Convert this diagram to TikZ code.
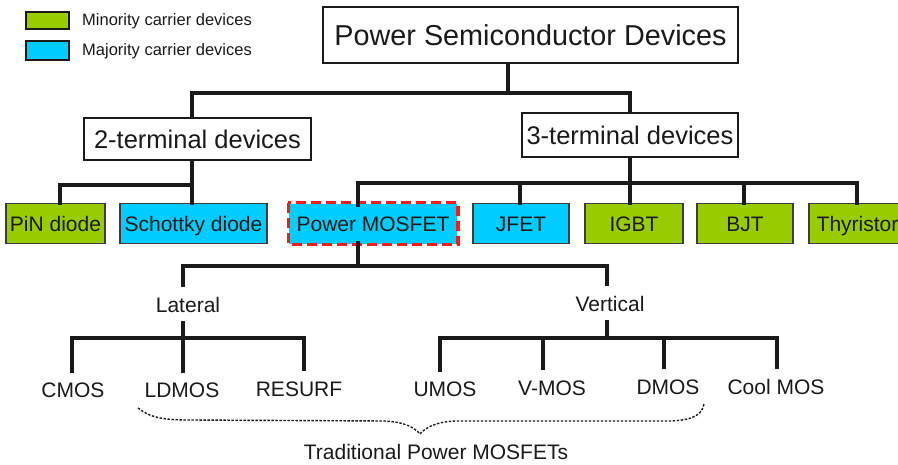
\documentclass[tikz,border=0pt]{standalone}
\usepackage{fontspec}
\setmainfont{Liberation Sans}
\definecolor{mgreen}{HTML}{99CC00}
\definecolor{mblue}{HTML}{00CCFF}
\definecolor{ink}{HTML}{1A1A1A}
\definecolor{mred}{HTML}{F01E1E}
\newcommand\fsLegend{\fontsize{16.5}{19}\selectfont}
\newcommand\fsBox{\fontsize{21}{25}\selectfont}
\newcommand\fsTerm{\fontsize{25.5}{30}\selectfont}
\newcommand\fsRoot{\fontsize{28.8}{34}\selectfont}
\begin{document}
\begin{tikzpicture}[x=1pt,y=-1pt,
  conn/.style={line width=3.6pt, draw=ink, line cap=rect, line join=miter},
  whitebox/.style={draw=ink, line width=1.5pt, fill=white, inner sep=0pt, text=ink},
  devbox/.style={draw=ink!85, line width=1.6pt, inner sep=0pt, minimum height=40pt, text height=16pt, text depth=0pt, text=ink, font=\fsBox},
  minor/.style={devbox, fill=mgreen},
  major/.style={devbox, fill=mblue},
  leaf/.style={inner sep=0pt, text=ink, font=\fsBox},
  legbox/.style={draw=ink, line width=1.5pt, inner sep=0pt, minimum width=43pt},
  legtext/.style={inner sep=0pt, anchor=west, text=ink, font=\fsLegend}]
\useasboundingbox (0,0) rectangle (898,464);
\fill[white] (0,0) rectangle (898,464);

% legend
\node[legbox, fill=mgreen, minimum height=17pt] (lg1) at (47.5,20.5) {};
\node[legbox, fill=mblue, minimum height=19pt] (lg2) at (47.5,50.5) {};
\node[legtext] (lt1) at (82,21) {Minority carrier devices};
\node[legtext] (lt2) at (82,51) {Majority carrier devices};

% main boxes
\node[whitebox, minimum width=415pt, minimum height=56pt, font=\fsRoot] (root) at (530.5,35) {Power Semiconductor Devices};
\node[whitebox, minimum width=227pt, minimum height=42pt, font=\fsTerm] (two) at (197.5,139) {2-terminal devices};
\node[whitebox, minimum width=216pt, minimum height=44pt, font=\fsTerm] (three) at (630,135) {3-terminal devices};

% device boxes
\node[minor, minimum width=99pt] (pin) at (55.5,223.5) {PiN diode};
\node[major, minimum width=147pt] (sch) at (193.5,223.5) {Schottky diode};
\node[major, draw=none, minimum width=168pt] (pmos) at (373,223.5) {Power MOSFET};
\draw[mred, line width=3.4pt, dash pattern=on 10pt off 5pt] (pmos.north west) rectangle (pmos.south east);
\node[major, minimum width=96pt] (jfet) at (521,223.5) {JFET};
\node[minor, minimum width=98pt] (igbt) at (634,223.5) {IGBT};
\node[minor, minimum width=96pt] (bjt) at (745,223.5) {BJT};
\node[minor, minimum width=97pt] (thy) at (857.5,223.5) {Thyristor};

% sub-levels
\node[leaf] (lat) at (188,305) {Lateral};
\node[leaf] (ver) at (610,304) {Vertical};
\node[leaf] (cmos) at (73,390) {CMOS};
\node[leaf] (ldmos) at (182,390) {LDMOS};
\node[leaf] (resurf) at (299,389) {RESURF};
\node[leaf] (umos) at (445,389) {UMOS};
\node[leaf] (vmos) at (552,388) {V-MOS};
\node[leaf] (dmos) at (668,387) {DMOS};
\node[leaf] (cool) at (776,387) {Cool MOS};
\node[leaf] (trad) at (436,452) {Traditional Power MOSFETs};

% junction coordinates
\coordinate (r1) at (508,93);
\coordinate (rl) at (192,93);
\coordinate (rr) at (630,93);
\coordinate (t2) at (192,185);
\coordinate (p1) at (60,185);
\coordinate (t3c) at (630,183);
\coordinate (t3a) at (358,183);
\coordinate (t3b) at (857,183);
\coordinate (m1) at (358,266);
\coordinate (ml) at (183,266);
\coordinate (mr) at (607,266);
\coordinate (lb) at (183,338);
\coordinate (lbl) at (72,338);
\coordinate (lbr) at (304,338);
\coordinate (vb) at (607,338);
\coordinate (vbl) at (440,338);
\coordinate (vbr) at (777,338);

% root tree
\draw[conn] (root.south -| r1) -- (r1);
\draw[conn] (two.north -| rl) -- (rl) -- (rr) -- (three.north);

% 2-terminal tree
\draw[conn] (two.south -| t2) -- (sch.north -| t2);
\draw[conn] (pin.north -| p1) -- (p1) -- (t2);

% 3-terminal tree
\draw[conn] (three.south) -- (igbt.north -| t3c);
\draw[conn] ([yshift=-2pt]pmos.north -| t3a) -- (t3a) -- (t3b) -- (thy.north -| t3b);
\draw[conn] (jfet.north -| 520,0) -- (t3a -| 520,0);
\draw[conn] (bjt.north -| 744,0) -- (t3a -| 744,0);

% Power MOSFET tree
\draw[conn] ([yshift=2pt]pmos.south -| m1) -- (m1);
\draw[conn] ([yshift=12pt]lat.north -| ml) -- (ml) -- (mr) -- ([yshift=12pt]ver.north -| mr);

% lateral tree
\draw[conn] ([yshift=-10pt]lat.south -| lb) -- (lb);
\draw[conn] ([yshift=11pt]cmos.north -| lbl) -- (lbl) -- (lbr) -- ([yshift=12pt]resurf.north -| lbr);
\draw[conn] (lb) -- ([yshift=11pt]ldmos.north -| lb);

% vertical tree
\draw[conn] ([yshift=-10pt]ver.south -| vb) -- (vb);
\draw[conn] ([yshift=11pt]umos.north -| vbl) -- (vbl) -- (vbr) -- ([yshift=12pt]cool.north -| vbr);
\draw[conn] ([yshift=12pt]vmos.north -| 543,0) -- (vb -| 543,0);
\draw[conn] ([yshift=12pt]dmos.north -| 664,0) -- (vb -| 664,0);

% brace
\draw[ink, line width=1.4pt, dash pattern=on 2.4pt off 1.6pt]
  (138,408) .. controls (150,418) and (165,420) .. (190,420) -- (385,421)
  .. controls (405,422) and (415,428) .. (420,434)
  .. controls (425,428) and (435,422) .. (455,421) -- (670,421)
  .. controls (695,420) and (702,414) .. (704,404);
\end{tikzpicture}
\end{document}
